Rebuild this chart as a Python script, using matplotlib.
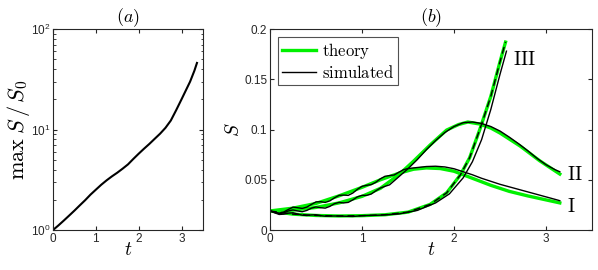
import matplotlib
matplotlib.use("Agg")
import matplotlib.pyplot as plt

plt.rcParams['font.family'] = ['Liberation Sans', 'DejaVu Sans']
plt.rcParams['mathtext.fontset'] = 'dejavusans'

# panel (a): growth of max S / S0
t_a = [0.0, 0.125, 0.25, 0.375, 0.5, 0.625, 0.75, 0.875, 1.0, 1.125, 1.25, 1.375, 1.5, 1.625,
       1.75, 1.875, 2.0, 2.125, 2.25, 2.375, 2.5, 2.625, 2.75, 2.875, 3.0, 3.1, 3.2, 3.3, 3.36]
max_ratio = [1.0, 1.11, 1.24, 1.39, 1.56, 1.76, 1.98, 2.25, 2.52, 2.82, 3.12, 3.42, 3.72, 4.08,
             4.5, 5.1, 5.75, 6.45, 7.2, 8.1, 9.1, 10.4, 12.3, 15.6, 20.0, 24.5, 30.0, 38.5, 46.0]

# panel (b): theory curves
t_th1 = [0.0, 0.25, 0.5, 0.75, 1.0, 1.2, 1.4, 1.56, 1.7, 1.85, 2.0, 2.2, 2.4, 2.6, 2.8, 3.0, 3.15]
s_th1 = [0.019, 0.0218, 0.0265, 0.034, 0.0425, 0.050, 0.0565, 0.0605, 0.0618, 0.0612, 0.0585,
         0.0515, 0.0445, 0.0385, 0.034, 0.030, 0.027]
t_th2 = [0.0, 0.25, 0.5, 0.75, 1.0, 1.2, 1.4, 1.56, 1.74, 1.92, 2.05, 2.15, 2.28, 2.4, 2.5, 2.72,
         2.93, 3.15]
s_th2 = [0.019, 0.0198, 0.0225, 0.027, 0.0335, 0.0415, 0.055, 0.0685, 0.0846, 0.0995, 0.105,
         0.1075, 0.1055, 0.1015, 0.0965, 0.0835, 0.069, 0.0557]
t_th3 = [0.0, 0.25, 0.5, 0.75, 1.0, 1.25, 1.5, 1.74, 1.92, 2.07, 2.17, 2.28, 2.4, 2.5, 2.56]
s_th3 = [0.019, 0.0158, 0.0145, 0.014, 0.0143, 0.0152, 0.0178, 0.0255, 0.037, 0.055, 0.072,
         0.100, 0.133, 0.1675, 0.187]

# panel (b): simulated curves
t_sim1 = [0.0, 0.05, 0.1, 0.15, 0.2, 0.25, 0.3, 0.35, 0.4, 0.45, 0.5, 0.55, 0.6, 0.65, 0.7, 0.75,
          0.8, 0.85, 0.9, 0.95, 1.0, 1.05, 1.1, 1.15, 1.2, 1.25, 1.3, 1.35, 1.4, 1.45, 1.5, 1.6,
          1.7, 1.8, 1.9, 2.0, 2.1, 2.2, 2.3, 2.4, 2.5, 2.6, 2.7, 2.8, 2.9, 3.0, 3.1, 3.15]
s_sim1 = [0.0190, 0.0178, 0.0168, 0.0180, 0.0205, 0.0228, 0.0222, 0.0215, 0.0228, 0.0255, 0.0280,
          0.0282, 0.0275, 0.0290, 0.0320, 0.0345, 0.0348, 0.0345, 0.0368, 0.0405, 0.0435, 0.0445,
          0.0452, 0.0475, 0.0510, 0.0535, 0.0542, 0.0548, 0.0575, 0.0600, 0.0612, 0.0622, 0.0632,
          0.0635, 0.0628, 0.0610, 0.0580, 0.0550, 0.0515, 0.0485, 0.0455, 0.0430, 0.0405, 0.0380,
          0.0355, 0.0330, 0.0305, 0.0292]
t_sim2 = [0.0, 0.05, 0.1, 0.15, 0.2, 0.25, 0.3, 0.35, 0.4, 0.45, 0.5, 0.55, 0.6, 0.65, 0.7, 0.75,
          0.8, 0.85, 0.9, 0.95, 1.0, 1.05, 1.1, 1.15, 1.2, 1.25, 1.3, 1.4, 1.5, 1.6, 1.7, 1.8, 1.9,
          2.0, 2.1, 2.2, 2.3, 2.4, 2.5, 2.6, 2.7, 2.8, 2.9, 3.0, 3.1, 3.15]
s_sim2 = [0.0190, 0.0175, 0.0162, 0.0172, 0.0190, 0.0200, 0.0190, 0.0182, 0.0195, 0.0218, 0.0230,
          0.0222, 0.0218, 0.0235, 0.0262, 0.0275, 0.0270, 0.0275, 0.0300, 0.0330, 0.0345, 0.0345,
          0.0358, 0.0390, 0.0418, 0.0435, 0.0450, 0.0530, 0.0610, 0.0700, 0.0800, 0.0890, 0.0970,
          0.1030, 0.1068, 0.1075, 0.1060, 0.1030, 0.0985, 0.0925, 0.0860, 0.0790, 0.0715, 0.0650,
          0.0600, 0.0580]
t_sim3 = [0.0, 0.05, 0.1, 0.15, 0.2, 0.25, 0.3, 0.35, 0.4, 0.45, 0.5, 0.55, 0.6, 0.7, 0.8, 0.9,
          1.0, 1.2, 1.4, 1.6, 1.8, 1.95, 2.1, 2.2, 2.3, 2.4, 2.5, 2.57]
s_sim3 = [0.0190, 0.0172, 0.0155, 0.0158, 0.0168, 0.0172, 0.0160, 0.0148, 0.0145, 0.0150, 0.0152,
          0.0143, 0.0138, 0.0140, 0.0138, 0.0135, 0.0143, 0.0148, 0.0160, 0.0195, 0.0270, 0.0360,
          0.0520, 0.0680, 0.0900, 0.1200, 0.1550, 0.1780]

GREEN = '#00f000'
INK = '0.15'


def style(ax):
    ax.tick_params(direction='in', which='both', top=True, right=True, colors=INK,
                   labelsize=8.5, length=3, pad=2)
    ax.tick_params(which='minor', length=1.8)
    for sp in ax.spines.values():
        sp.set_color(INK)
        sp.set_linewidth(0.8)


fig = plt.figure(figsize=(5.98, 2.70), dpi=100)
ax1 = fig.add_axes([0.0886, 0.148, 0.2508, 0.7444])
ax2 = fig.add_axes([0.4515, 0.148, 0.5385, 0.7444])

ax1.semilogy(t_a, max_ratio, color='k', lw=1.5)
ax1.set_xlim(0, 3.5)
ax1.set_ylim(1, 100)
ax1.set_xticks([0, 1, 2, 3])
style(ax1)
ax1.set_xlabel('$t$', math_fontfamily='cm', fontsize=14, labelpad=-2)
ax1.set_ylabel(r'$\max\;S\,/\,S_0$', math_fontfamily='cm', fontsize=16, labelpad=-1)
ax1.set_title('$(a)$', math_fontfamily='cm', fontsize=13, pad=3)

ax2.plot(t_th1, s_th1, color=GREEN, lw=2.4, label=r'$\mathrm{theory}$')
ax2.plot(t_th2, s_th2, color=GREEN, lw=2.4)
ax2.plot(t_th3, s_th3, color=GREEN, lw=2.4)
ax2.plot(t_sim1, s_sim1, color='k', lw=1.0, label=r'$\mathrm{simulated}$')
ax2.plot(t_sim2, s_sim2, color='k', lw=1.0)
ax2.plot(t_sim3, s_sim3, color='k', lw=1.0)
ax2.plot(t_th3, s_th3, color='k', lw=1.0, ls=(0, (5, 3)))
ax2.set_xlim(0, 3.5)
ax2.set_ylim(0, 0.2)
ax2.set_xticks([0, 1, 2, 3])
ax2.set_yticks([0, 0.05, 0.1, 0.15, 0.2])
ax2.set_yticklabels(['0', '0.05', '0.1', '0.15', '0.2'])
style(ax2)
ax2.set_xlabel('$t$', math_fontfamily='cm', fontsize=14, labelpad=-2)
ax2.set_ylabel('$S$', math_fontfamily='cm', fontsize=14, labelpad=1)
ax2.set_title('$(b)$', math_fontfamily='cm', fontsize=13, pad=3)

for txt, tx, sy in [('III', 2.64, 0.169), ('II', 3.23, 0.055), ('I', 3.23, 0.023)]:
    ax2.text(tx, sy, r'$\mathrm{%s}$' % txt, math_fontfamily='cm', fontsize=14,
             va='center', ha='left')

leg = ax2.legend(loc='upper left', bbox_to_anchor=(0.025, 0.96), frameon=True, fancybox=False,
                 edgecolor=INK, handlelength=2.0, handletextpad=0.4, borderpad=0.25,
                 labelspacing=0.15, borderaxespad=0, fontsize=12)
leg.get_frame().set_linewidth(0.8)
for tx in leg.get_texts():
    tx.set_math_fontfamily('cm')

fig.savefig('out.png', dpi=100)
